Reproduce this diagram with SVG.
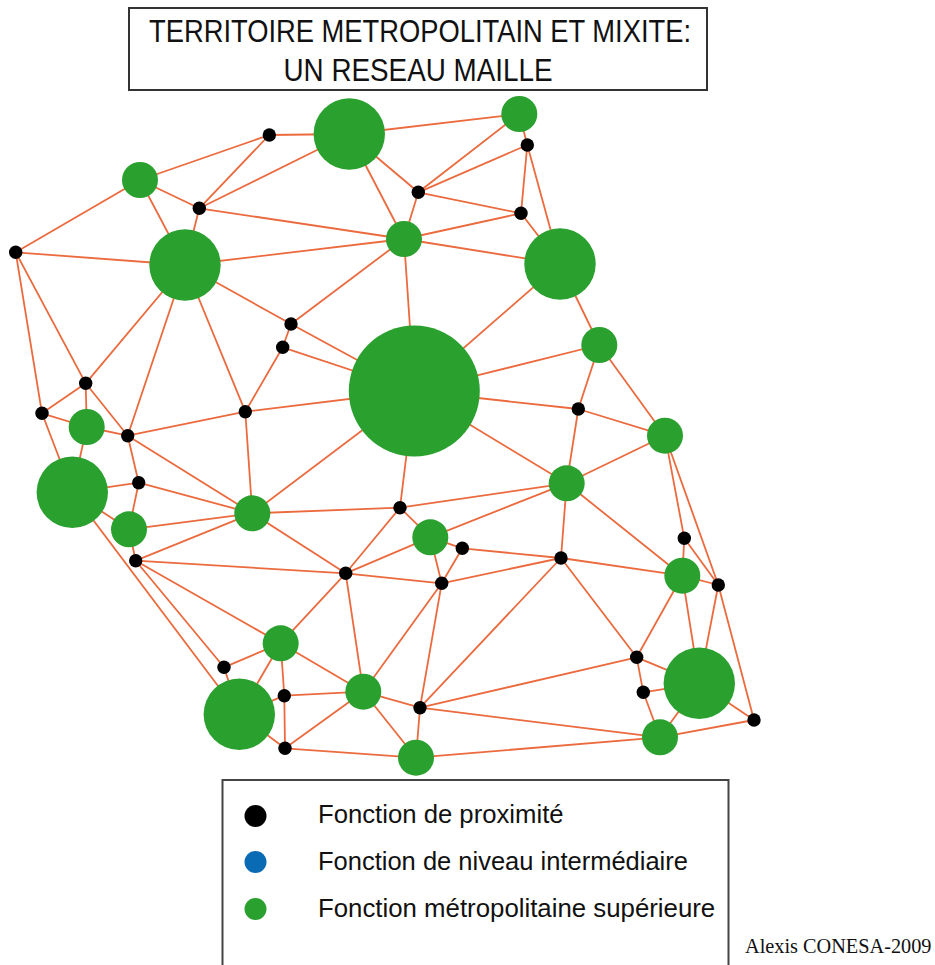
<svg xmlns="http://www.w3.org/2000/svg" width="935" height="965" viewBox="0 0 935 965">
<style>
.e{stroke:#EB6A3E;stroke-width:1.8;fill:none;stroke-linecap:round}
.g{fill:#2AA02F}
.b{fill:#000}
.t{font-family:"Liberation Sans",Arial,sans-serif;fill:#111}
.box{fill:#fff;stroke:#333;stroke-width:2}
</style>
<rect width="935" height="965" fill="#fff"/>
<g id="title">
<rect class="box" x="129" y="8" width="578" height="82"/>
<text class="t" x="420" y="42" font-size="31" text-anchor="middle" textLength="542" lengthAdjust="spacingAndGlyphs">TERRITOIRE METROPOLITAIN ET MIXITE:</text>
<text class="t" x="418" y="81" font-size="31" text-anchor="middle" textLength="269" lengthAdjust="spacingAndGlyphs">UN RESEAU MAILLE</text>
</g>
<g id="connectors">
<line class="e" x1="269.3" y1="135" x2="140" y2="180"/>
<line class="e" x1="269.3" y1="135" x2="199.3" y2="208.3"/>
<line class="e" x1="269.3" y1="135" x2="349.3" y2="134"/>
<line class="e" x1="199.3" y1="208.3" x2="140" y2="180"/>
<line class="e" x1="199.3" y1="208.3" x2="349.3" y2="134"/>
<line class="e" x1="199.3" y1="208.3" x2="404" y2="239"/>
<line class="e" x1="199.3" y1="208.3" x2="185" y2="265"/>
<line class="e" x1="140" y1="180" x2="185" y2="265"/>
<line class="e" x1="15.7" y1="252.3" x2="140" y2="180"/>
<line class="e" x1="15.7" y1="252.3" x2="185" y2="265"/>
<line class="e" x1="15.7" y1="252.3" x2="42" y2="413.3"/>
<line class="e" x1="15.7" y1="252.3" x2="85.7" y2="383.3"/>
<line class="e" x1="185" y1="265" x2="404" y2="239"/>
<line class="e" x1="185" y1="265" x2="291" y2="324"/>
<line class="e" x1="185" y1="265" x2="85.7" y2="383.3"/>
<line class="e" x1="185" y1="265" x2="127.7" y2="435.7"/>
<line class="e" x1="185" y1="265" x2="245.3" y2="411.7"/>
<line class="e" x1="349.3" y1="134" x2="519.3" y2="114"/>
<line class="e" x1="349.3" y1="134" x2="418.3" y2="192.3"/>
<line class="e" x1="349.3" y1="134" x2="404" y2="239"/>
<line class="e" x1="519.3" y1="114" x2="418.3" y2="192.3"/>
<line class="e" x1="527.3" y1="145" x2="418.3" y2="192.3"/>
<line class="e" x1="527.3" y1="145" x2="519.3" y2="114"/>
<line class="e" x1="527.3" y1="145" x2="521" y2="213.3"/>
<line class="e" x1="527.3" y1="145" x2="560" y2="264"/>
<line class="e" x1="418.3" y1="192.3" x2="521" y2="213.3"/>
<line class="e" x1="418.3" y1="192.3" x2="404" y2="239"/>
<line class="e" x1="521" y1="213.3" x2="404" y2="239"/>
<line class="e" x1="521" y1="213.3" x2="560" y2="264"/>
<line class="e" x1="404" y1="239" x2="560" y2="264"/>
<line class="e" x1="404" y1="239" x2="291" y2="324"/>
<line class="e" x1="404" y1="239" x2="414.3" y2="391"/>
<line class="e" x1="560" y1="264" x2="414.3" y2="391"/>
<line class="e" x1="560" y1="264" x2="599.3" y2="345"/>
<line class="e" x1="291" y1="324" x2="414.3" y2="391"/>
<line class="e" x1="291" y1="324" x2="282.7" y2="347.3"/>
<line class="e" x1="282.7" y1="347.3" x2="414.3" y2="391"/>
<line class="e" x1="282.7" y1="347.3" x2="245.3" y2="411.7"/>
<line class="e" x1="245.3" y1="411.7" x2="414.3" y2="391"/>
<line class="e" x1="414.3" y1="391" x2="599.3" y2="345"/>
<line class="e" x1="414.3" y1="391" x2="578.3" y2="409"/>
<line class="e" x1="414.3" y1="391" x2="566.7" y2="483.3"/>
<line class="e" x1="414.3" y1="391" x2="400" y2="507.7"/>
<line class="e" x1="414.3" y1="391" x2="252.3" y2="513.3"/>
<line class="e" x1="85.7" y1="383.3" x2="42" y2="413.3"/>
<line class="e" x1="85.7" y1="383.3" x2="86.7" y2="427"/>
<line class="e" x1="85.7" y1="383.3" x2="127.7" y2="435.7"/>
<line class="e" x1="42" y1="413.3" x2="86.7" y2="427"/>
<line class="e" x1="42" y1="413.3" x2="72.3" y2="492.3"/>
<line class="e" x1="86.7" y1="427" x2="127.7" y2="435.7"/>
<line class="e" x1="86.7" y1="427" x2="72.3" y2="492.3"/>
<line class="e" x1="127.7" y1="435.7" x2="245.3" y2="411.7"/>
<line class="e" x1="127.7" y1="435.7" x2="138.7" y2="482.7"/>
<line class="e" x1="127.7" y1="435.7" x2="252.3" y2="513.3"/>
<line class="e" x1="245.3" y1="411.7" x2="252.3" y2="513.3"/>
<line class="e" x1="72.3" y1="492.3" x2="138.7" y2="482.7"/>
<line class="e" x1="72.3" y1="492.3" x2="129" y2="529.3"/>
<line class="e" x1="72.3" y1="492.3" x2="239.3" y2="714.3"/>
<line class="e" x1="138.7" y1="482.7" x2="252.3" y2="513.3"/>
<line class="e" x1="138.7" y1="482.7" x2="129" y2="529.3"/>
<line class="e" x1="129" y1="529.3" x2="252.3" y2="513.3"/>
<line class="e" x1="129" y1="529.3" x2="135.7" y2="560.7"/>
<line class="e" x1="135.7" y1="560.7" x2="252.3" y2="513.3"/>
<line class="e" x1="135.7" y1="560.7" x2="345.7" y2="573.3"/>
<line class="e" x1="135.7" y1="560.7" x2="280.7" y2="643.3"/>
<line class="e" x1="135.7" y1="560.7" x2="224" y2="667.3"/>
<line class="e" x1="252.3" y1="513.3" x2="400" y2="507.7"/>
<line class="e" x1="252.3" y1="513.3" x2="345.7" y2="573.3"/>
<line class="e" x1="400" y1="507.7" x2="566.7" y2="483.3"/>
<line class="e" x1="400" y1="507.7" x2="430.3" y2="537.3"/>
<line class="e" x1="400" y1="507.7" x2="345.7" y2="573.3"/>
<line class="e" x1="430.3" y1="537.3" x2="566.7" y2="483.3"/>
<line class="e" x1="430.3" y1="537.3" x2="462.3" y2="548.3"/>
<line class="e" x1="430.3" y1="537.3" x2="441.7" y2="583.3"/>
<line class="e" x1="430.3" y1="537.3" x2="345.7" y2="573.3"/>
<line class="e" x1="462.3" y1="548.3" x2="561" y2="558"/>
<line class="e" x1="462.3" y1="548.3" x2="441.7" y2="583.3"/>
<line class="e" x1="561" y1="558" x2="566.7" y2="483.3"/>
<line class="e" x1="561" y1="558" x2="441.7" y2="583.3"/>
<line class="e" x1="345.7" y1="573.3" x2="441.7" y2="583.3"/>
<line class="e" x1="345.7" y1="573.3" x2="280.7" y2="643.3"/>
<line class="e" x1="345.7" y1="573.3" x2="363.3" y2="691.7"/>
<line class="e" x1="441.7" y1="583.3" x2="420" y2="707.7"/>
<line class="e" x1="441.7" y1="583.3" x2="363.3" y2="691.7"/>
<line class="e" x1="561" y1="558" x2="420" y2="707.7"/>
<line class="e" x1="561" y1="558" x2="636.7" y2="657.3"/>
<line class="e" x1="561" y1="558" x2="682.3" y2="575.7"/>
<line class="e" x1="599.3" y1="345" x2="578.3" y2="409"/>
<line class="e" x1="599.3" y1="345" x2="665" y2="435.7"/>
<line class="e" x1="578.3" y1="409" x2="665" y2="435.7"/>
<line class="e" x1="578.3" y1="409" x2="566.7" y2="483.3"/>
<line class="e" x1="665" y1="435.7" x2="566.7" y2="483.3"/>
<line class="e" x1="665" y1="435.7" x2="684.3" y2="538.3"/>
<line class="e" x1="665" y1="435.7" x2="718.3" y2="585"/>
<line class="e" x1="566.7" y1="483.3" x2="682.3" y2="575.7"/>
<line class="e" x1="684.3" y1="538.3" x2="682.3" y2="575.7"/>
<line class="e" x1="684.3" y1="538.3" x2="718.3" y2="585"/>
<line class="e" x1="682.3" y1="575.7" x2="718.3" y2="585"/>
<line class="e" x1="682.3" y1="575.7" x2="636.7" y2="657.3"/>
<line class="e" x1="682.3" y1="575.7" x2="699.3" y2="683.3"/>
<line class="e" x1="718.3" y1="585" x2="699.3" y2="683.3"/>
<line class="e" x1="718.3" y1="585" x2="754" y2="720"/>
<line class="e" x1="636.7" y1="657.3" x2="699.3" y2="683.3"/>
<line class="e" x1="636.7" y1="657.3" x2="643.3" y2="692.3"/>
<line class="e" x1="643.3" y1="692.3" x2="699.3" y2="683.3"/>
<line class="e" x1="643.3" y1="692.3" x2="660" y2="737.3"/>
<line class="e" x1="699.3" y1="683.3" x2="660" y2="737.3"/>
<line class="e" x1="699.3" y1="683.3" x2="754" y2="720"/>
<line class="e" x1="660" y1="737.3" x2="754" y2="720"/>
<line class="e" x1="636.7" y1="657.3" x2="420" y2="707.7"/>
<line class="e" x1="420" y1="707.7" x2="660" y2="737.3"/>
<line class="e" x1="420" y1="707.7" x2="416" y2="757.7"/>
<line class="e" x1="416" y1="757.7" x2="660" y2="737.3"/>
<line class="e" x1="363.3" y1="691.7" x2="420" y2="707.7"/>
<line class="e" x1="363.3" y1="691.7" x2="416" y2="757.7"/>
<line class="e" x1="285" y1="748.3" x2="416" y2="757.7"/>
<line class="e" x1="224" y1="667.3" x2="280.7" y2="643.3"/>
<line class="e" x1="224" y1="667.3" x2="239.3" y2="714.3"/>
<line class="e" x1="280.7" y1="643.3" x2="239.3" y2="714.3"/>
<line class="e" x1="280.7" y1="643.3" x2="284.3" y2="695.7"/>
<line class="e" x1="280.7" y1="643.3" x2="363.3" y2="691.7"/>
<line class="e" x1="284.3" y1="695.7" x2="363.3" y2="691.7"/>
<line class="e" x1="284.3" y1="695.7" x2="285" y2="748.3"/>
<line class="e" x1="284.3" y1="695.7" x2="239.3" y2="714.3"/>
<line class="e" x1="285" y1="748.3" x2="239.3" y2="714.3"/>
<line class="e" x1="285" y1="748.3" x2="363.3" y2="691.7"/>
</g>
<g id="G1"><circle class="g" cx="140" cy="180" r="18"/></g>
<g id="G2"><circle class="g" cx="185" cy="265" r="35.7"/></g>
<g id="G3"><circle class="g" cx="349.3" cy="134" r="35.7"/></g>
<g id="G4"><circle class="g" cx="519.3" cy="114" r="18"/></g>
<g id="G5"><circle class="g" cx="404" cy="239" r="18"/></g>
<g id="G6"><circle class="g" cx="560" cy="264" r="35.7"/></g>
<g id="G7"><circle class="g" cx="599.3" cy="345" r="18"/></g>
<g id="G8"><circle class="g" cx="414.3" cy="391" r="65.5"/></g>
<g id="G9"><circle class="g" cx="86.7" cy="427" r="18"/></g>
<g id="G10"><circle class="g" cx="72.3" cy="492.3" r="35.7"/></g>
<g id="G11"><circle class="g" cx="129" cy="529.3" r="18"/></g>
<g id="G12"><circle class="g" cx="252.3" cy="513.3" r="18"/></g>
<g id="G13"><circle class="g" cx="566.7" cy="483.3" r="18"/></g>
<g id="G14"><circle class="g" cx="665" cy="435.7" r="18"/></g>
<g id="G15"><circle class="g" cx="430.3" cy="537.3" r="18"/></g>
<g id="G16"><circle class="g" cx="682.3" cy="575.7" r="18"/></g>
<g id="G17"><circle class="g" cx="280.7" cy="643.3" r="18"/></g>
<g id="G18"><circle class="g" cx="239.3" cy="714.3" r="35.7"/></g>
<g id="G19"><circle class="g" cx="363.3" cy="691.7" r="18"/></g>
<g id="G20"><circle class="g" cx="699.3" cy="683.3" r="35.7"/></g>
<g id="G21"><circle class="g" cx="660" cy="737.3" r="18"/></g>
<g id="G22"><circle class="g" cx="416" cy="757.7" r="18"/></g>
<g id="B1"><circle class="b" cx="269.3" cy="135" r="6.7"/></g>
<g id="B2"><circle class="b" cx="199.3" cy="208.3" r="6.7"/></g>
<g id="B3"><circle class="b" cx="15.7" cy="252.3" r="6.7"/></g>
<g id="B4"><circle class="b" cx="527.3" cy="145" r="6.7"/></g>
<g id="B5"><circle class="b" cx="418.3" cy="192.3" r="6.7"/></g>
<g id="B6"><circle class="b" cx="521" cy="213.3" r="6.7"/></g>
<g id="B7"><circle class="b" cx="291" cy="324" r="6.7"/></g>
<g id="B8"><circle class="b" cx="282.7" cy="347.3" r="6.7"/></g>
<g id="B9"><circle class="b" cx="85.7" cy="383.3" r="6.7"/></g>
<g id="B10"><circle class="b" cx="42" cy="413.3" r="6.7"/></g>
<g id="B11"><circle class="b" cx="127.7" cy="435.7" r="6.7"/></g>
<g id="B12"><circle class="b" cx="245.3" cy="411.7" r="6.7"/></g>
<g id="B13"><circle class="b" cx="138.7" cy="482.7" r="6.7"/></g>
<g id="B14"><circle class="b" cx="135.7" cy="560.7" r="6.7"/></g>
<g id="B15"><circle class="b" cx="578.3" cy="409" r="6.7"/></g>
<g id="B16"><circle class="b" cx="400" cy="507.7" r="6.7"/></g>
<g id="B17"><circle class="b" cx="462.3" cy="548.3" r="6.7"/></g>
<g id="B18"><circle class="b" cx="561" cy="558" r="6.7"/></g>
<g id="B19"><circle class="b" cx="345.7" cy="573.3" r="6.7"/></g>
<g id="B20"><circle class="b" cx="441.7" cy="583.3" r="6.7"/></g>
<g id="B21"><circle class="b" cx="684.3" cy="538.3" r="6.7"/></g>
<g id="B22"><circle class="b" cx="718.3" cy="585" r="6.7"/></g>
<g id="B23"><circle class="b" cx="224" cy="667.3" r="6.7"/></g>
<g id="B24"><circle class="b" cx="284.3" cy="695.7" r="6.7"/></g>
<g id="B25"><circle class="b" cx="285" cy="748.3" r="6.7"/></g>
<g id="B26"><circle class="b" cx="636.7" cy="657.3" r="6.7"/></g>
<g id="B27"><circle class="b" cx="643.3" cy="692.3" r="6.7"/></g>
<g id="B28"><circle class="b" cx="754" cy="720" r="6.7"/></g>
<g id="B29"><circle class="b" cx="420" cy="707.7" r="6.7"/></g>
<g id="legend">
<path d="M222.5,970 V780 H728.5 V970" fill="#fff" stroke="#444" stroke-width="2"/>
<circle cx="255.5" cy="816" r="11" fill="#000"/>
<circle cx="255.5" cy="862" r="11" fill="#0A6BB5"/>
<circle cx="255.5" cy="909" r="11" fill="#2AA02F"/>
<text class="t" x="318" y="823" font-size="25.7">Fonction de proximité</text>
<text class="t" x="318" y="870" font-size="25.5">Fonction de niveau intermédiaire</text>
<text class="t" x="318" y="917" font-size="25.8">Fonction métropolitaine supérieure</text>
</g>
<text x="745" y="953" font-family="'Liberation Serif','Times New Roman',serif" font-size="20.3" fill="#111">Alexis CONESA-2009</text>
</svg>
